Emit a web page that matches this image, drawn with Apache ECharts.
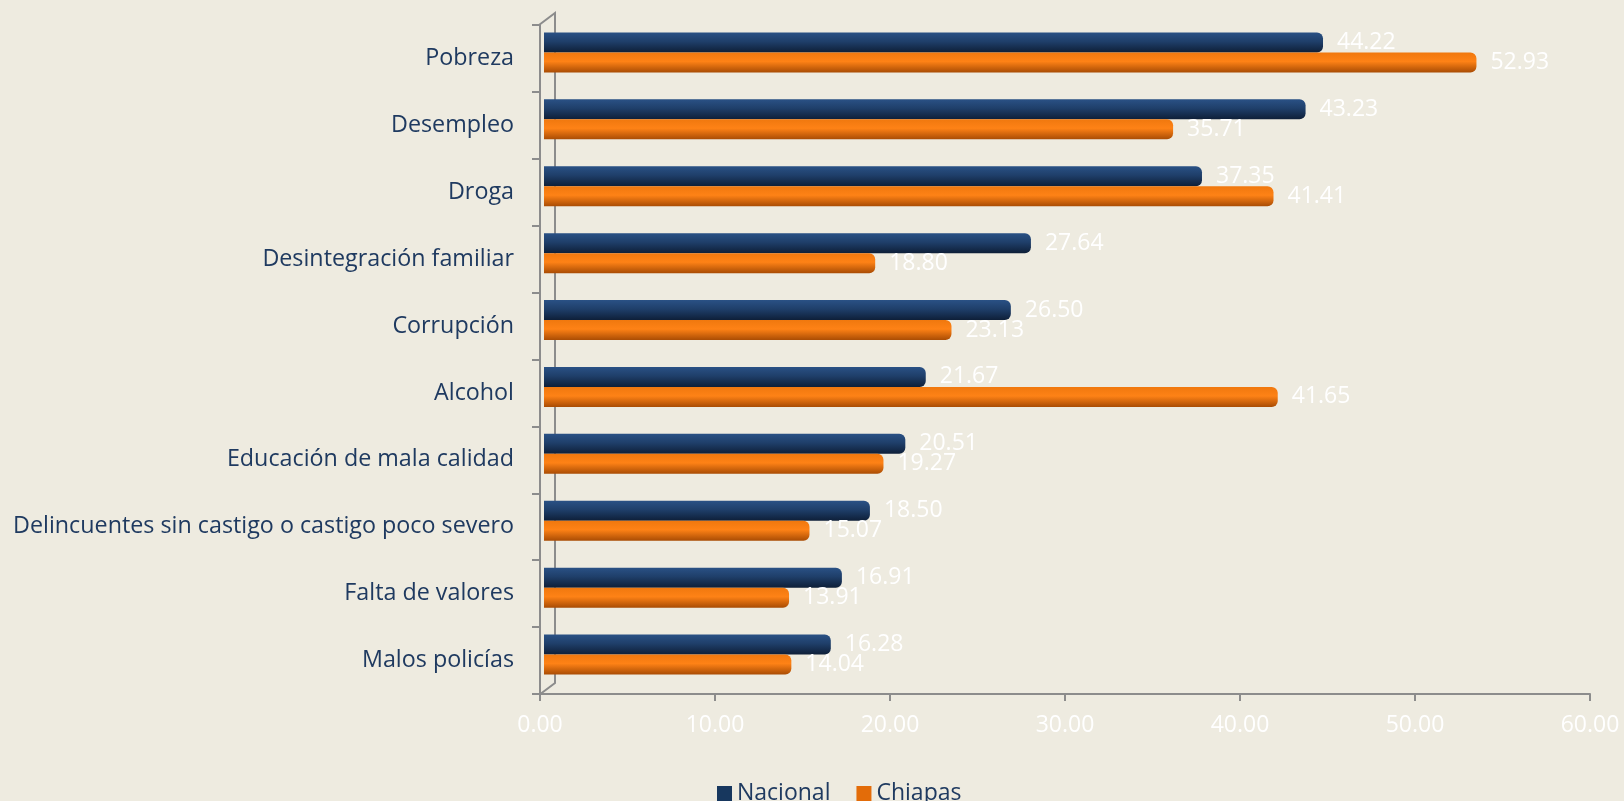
<!DOCTYPE html>
<html>
<head>
<meta charset="utf-8">
<script src="https://cdn.jsdelivr.net/npm/echarts@6/dist/echarts.min.js"></script>
<style>
  html, body { margin: 0; padding: 0; background: #eeebe0; }
  #chart { width: 1624px; height: 801px; }
</style>
</head>
<body>
<div id="chart"></div>
<script>
const categories = [
  "Pobreza",
  "Desempleo",
  "Droga",
  "Desintegración familiar",
  "Corrupción",
  "Alcohol",
  "Educación de mala calidad",
  "Delincuentes sin castigo o castigo poco severo",
  "Falta de valores",
  "Malos policías",
];
const nacional = [44.22, 43.23, 37.35, 27.64, 26.5, 21.67, 20.51, 18.5, 16.91, 16.28];
const chiapas = [52.93, 35.71, 41.41, 18.8, 23.13, 41.65, 19.27, 15.07, 13.91, 14.04];
const xTicks = { min: 0, max: 60, interval: 10 };

const FONT = "Open Sans";
const chart = echarts.init(document.getElementById("chart"));

// gradientes tipo cilindro
const navyGrad = new echarts.graphic.LinearGradient(0, 0, 0, 1, [
  { offset: 0, color: "#2a5185" },
  { offset: 0.45, color: "#1f3f6a" },
  { offset: 1, color: "#0e1f38" },
]);
const orangeGrad = new echarts.graphic.LinearGradient(0, 0, 0, 1, [
  { offset: 0, color: "#f0780e" },
  { offset: 0.45, color: "#fe8216" },
  { offset: 1, color: "#a94c04" },
]);

const labelStyle = {
  show: true,
  position: "right",
  distance: 14,
  color: "#ffffff",
  fontFamily: FONT,
  fontSize: 23,
  formatter: (p) => p.value.toFixed(2),
};

const option = {
  backgroundColor: "#eeebe0",
  animation: false,
  grid: [
    // ejes visibles
    { left: 540, right: 34, top: 25, height: 669 },
    // barras (desplazadas por el efecto 3D)
    { left: 544, width: 1057, top: 19, height: 669 },
  ],
  graphic: [
    {
      type: "polyline",
      silent: true,
      shape: { points: [[539, 25], [555, 13], [555, 683], [539, 695]] },
      style: { stroke: "#8c8c8c", lineWidth: 2, fill: null },
    },
  ],
  legend: {
    left: 712,
    top: 777,
    itemWidth: 15,
    itemHeight: 15,
    itemGap: 26,
    icon: "rect",
    textStyle: { color: "#1f3a60", fontFamily: FONT, fontSize: 23 },
    data: [
      { name: "Nacional", itemStyle: { color: "#17375e" } },
      { name: "Chiapas", itemStyle: { color: "#e36c09" } },
    ],
  },
  xAxis: [
    {
      gridIndex: 0,
      type: "value",
      min: xTicks.min,
      max: xTicks.max,
      interval: xTicks.interval,
      splitLine: { show: false },
      axisLine: { show: true, lineStyle: { color: "#8c8c8c", width: 2 } },
      axisTick: { show: true, length: 7, lineStyle: { color: "#8c8c8c", width: 2 } },
      axisLabel: {
        color: "#ffffff",
        fontFamily: FONT,
        fontSize: 23,
        margin: 20,
        formatter: (v) => v.toFixed(2),
      },
    },
    {
      gridIndex: 1,
      type: "value",
      min: xTicks.min,
      max: xTicks.max,
      show: false,
    },
  ],
  yAxis: [
    {
      gridIndex: 0,
      type: "category",
      inverse: true,
      data: categories,
      axisLine: { show: true, lineStyle: { color: "#8c8c8c", width: 2 } },
      axisTick: { show: true, length: 8, lineStyle: { color: "#8c8c8c", width: 2 } },
      axisLabel: {
        color: "#1f3a60",
        fontFamily: FONT,
        fontSize: 23.3,
        margin: 26,
      },
    },
    {
      gridIndex: 1,
      type: "category",
      inverse: true,
      data: categories,
      show: false,
    },
  ],
  series: [
    {
      name: "Nacional",
      type: "bar",
      xAxisIndex: 1,
      yAxisIndex: 1,
      data: nacional,
      barWidth: 20,
      barGap: "0%",
      itemStyle: { color: navyGrad, borderRadius: [0, 6, 6, 0] },
      label: labelStyle,
    },
    {
      name: "Chiapas",
      type: "bar",
      xAxisIndex: 1,
      yAxisIndex: 1,
      data: chiapas,
      barWidth: 20,
      barGap: "0%",
      itemStyle: { color: orangeGrad, borderRadius: [0, 6, 6, 0] },
      label: labelStyle,
    },
  ],
};

chart.setOption(option);
</script>
</body>
</html>
